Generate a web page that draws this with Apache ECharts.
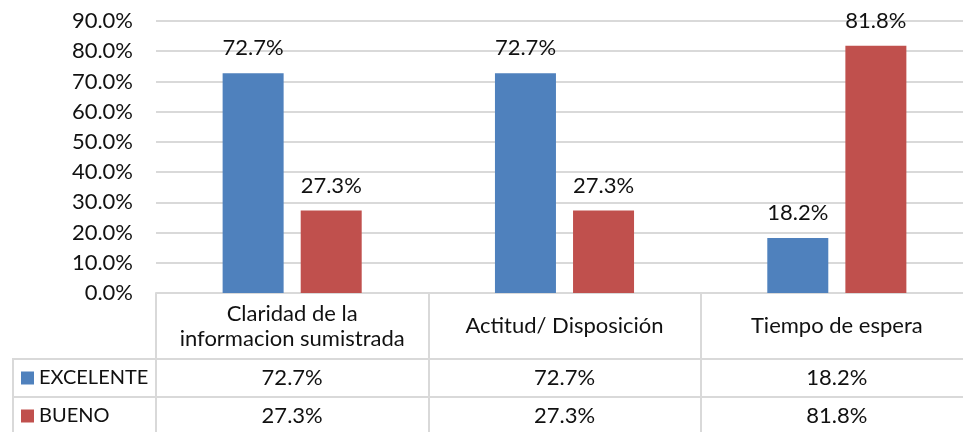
<!DOCTYPE html>
<html>
<head>
<meta charset="utf-8">
<script src="https://cdn.jsdelivr.net/npm/echarts@6/dist/echarts.min.js"></script>
<style>
  html, body { margin: 0; padding: 0; background: #fff; }
  #chart { width: 963px; height: 432px; }
</style>
</head>
<body>
<div id="chart"></div>
<script>
// Survey results per aspect, in percent
const categories = ['Claridad de la\ninformacion sumistrada', 'Actitud/ Disposición', 'Tiempo de espera'];
const seriesNames = ['EXCELENTE', 'BUENO'];
const excelente = [72.7, 72.7, 18.2];
const bueno = [27.3, 27.3, 81.8];

const FONT = 'Lato';
const FS = 22;
const TEXT = '#111';
const LINE = '#d9d9d9';
const BLUE = '#4f81bd';
const RED = '#c0504d';

// plot area; the data table hangs below it and runs past the right edge
const G = { left: 156, top: 21, width: 817, height: 272 };
const HEADER_H = 66, ROW_H = 38;
const pct = v => v.toFixed(1) + '%';

const chart = echarts.init(document.getElementById('chart'));

const tableY0 = G.top + G.height;
const row1 = tableY0 + HEADER_H;
const row2 = row1 + ROW_H;

chart.setOption({
  animation: false,
  textStyle: { fontFamily: FONT },
  grid: {
    left: G.left, top: G.top, width: G.width, height: G.height,
    containLabel: false, outerBoundsMode: 'none'
  },
  legend: {
    orient: 'vertical',
    left: 21,
    top: row1 + 8,
    padding: 0,
    height: 100,
    itemWidth: 13,
    itemHeight: 13,
    itemGap: 16,
    icon: 'rect',
    textStyle: { fontFamily: FONT, fontSize: 20, color: TEXT, lineHeight: 22 },
    data: seriesNames
  },
  xAxis: [
    {
      type: 'category',
      data: categories,
      axisLine: { show: true, lineStyle: { color: LINE, width: 2 } },
      axisTick: { show: true, length: 145, lineStyle: { color: LINE, width: 2 } },
      axisLabel: {
        fontFamily: FONT, fontSize: FS, color: TEXT, lineHeight: 25,
        verticalAlign: 'middle', margin: HEADER_H / 2, interval: 0
      }
    },
    {
      type: 'category',
      data: categories,
      position: 'bottom',
      offset: HEADER_H,
      axisLine: { show: true, lineStyle: { color: LINE, width: 2 } },
      axisTick: { show: false },
      axisLabel: {
        fontFamily: FONT, fontSize: FS, color: TEXT, verticalAlign: 'middle',
        margin: ROW_H / 2, interval: 0,
        formatter: (v, i) => pct(excelente[i])
      }
    },
    {
      type: 'category',
      data: categories,
      position: 'bottom',
      offset: HEADER_H + ROW_H,
      axisLine: { show: true, lineStyle: { color: LINE, width: 2 } },
      axisTick: { show: false },
      axisLabel: {
        fontFamily: FONT, fontSize: FS, color: TEXT, verticalAlign: 'middle',
        margin: ROW_H / 2, interval: 0,
        formatter: (v, i) => pct(bueno[i])
      }
    }
  ],
  yAxis: {
    type: 'value',
    min: 0,
    max: 90,
    interval: 10,
    axisLine: { show: false },
    axisTick: { show: false },
    splitLine: { lineStyle: { color: LINE, width: 2 } },
    axisLabel: {
      fontFamily: FONT, fontSize: FS, color: TEXT, margin: 23,
      formatter: v => pct(v)
    }
  },
  graphic: [
    // row separators and left border of the legend column
    {
      type: 'polyline',
      shape: { points: [[13, row1], [G.left, row1]] },
      style: { stroke: LINE, lineWidth: 2 }
    },
    {
      type: 'polyline',
      shape: { points: [[13, row2], [G.left, row2]] },
      style: { stroke: LINE, lineWidth: 2 }
    },
    {
      type: 'polyline',
      shape: { points: [[13, row1 - 1], [13, 440]] },
      style: { stroke: LINE, lineWidth: 2 }
    }
  ],
  series: [
    {
      name: seriesNames[0],
      type: 'bar',
      data: excelente,
      barWidth: 61,
      barGap: '28%',
      itemStyle: { color: BLUE },
      label: {
        show: true, position: 'top', distance: 14,
        fontFamily: FONT, fontSize: FS, color: TEXT,
        formatter: p => pct(p.value)
      }
    },
    {
      name: seriesNames[1],
      type: 'bar',
      data: bueno,
      barWidth: 61,
      barGap: '28%',
      itemStyle: { color: RED },
      label: {
        show: true, position: 'top', distance: 14,
        fontFamily: FONT, fontSize: FS, color: TEXT,
        formatter: p => pct(p.value)
      }
    }
  ]
});
</script>
</body>
</html>
